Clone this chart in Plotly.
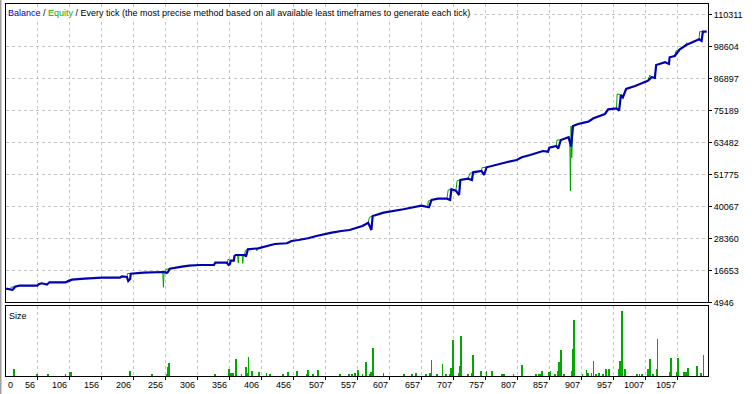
import plotly.graph_objects as go

# ---------------- data ----------------
balance_trades = [7, 17, 19, 21, 28, 56, 58, 63, 71, 75, 100, 102, 110, 130, 157, 185, 188, 196, 198, 201,
                  202, 222, 242, 254, 258, 260, 263, 268, 282, 293, 310, 332, 334, 352, 355, 357, 358, 363, 364, 366,
                  380, 382, 385, 401, 415, 427, 446, 453, 464, 479, 492, 504, 516, 531, 544, 555, 564, 573, 578, 580,
                  590, 597, 628, 646, 656, 668, 672, 682, 696, 701, 703, 710, 715, 717, 729, 735, 737, 750, 754, 758,
                  771, 789, 805, 813, 826, 836, 846, 854, 856, 867, 870, 874, 886, 890, 893, 901, 917, 925, 935, 943,
                  948, 961, 965, 968, 971, 976, 990, 1000, 1010, 1016, 1021, 1023, 1037, 1043, 1044, 1052, 1060, 1070, 1081, 1090,
                  1094, 1096, 1102]
balance_values = [10000, 9550, 10000, 10727, 11092, 11092, 11605, 11970, 11500, 12336, 12336, 12556, 13288, 13653, 14019, 14019, 14458, 14270, 12812, 13545,
                  15483, 15849, 16105, 16105, 15739, 16105, 17312, 17568, 18044, 18410, 18666, 18666, 19507, 19507, 18666, 19000, 20239, 20239, 21958, 22324,
                  22324, 21702, 24410, 24776, 25727, 26349, 26605, 27446, 27812, 28434, 29276, 30007, 30484, 31105, 31471, 32312, 32935, 34142, 31471, 36593,
                  37214, 37800, 39044, 39995, 40361, 39776, 42446, 42922, 42922, 42446, 46361, 45849, 44276, 49764, 50239, 49764, 52581, 53057, 51592, 54410,
                  55252, 56239, 57081, 58069, 58910, 59532, 60373, 60118, 61580, 62203, 61288, 64400, 65386, 62000, 69520, 70251, 71094, 72339, 73181, 73912,
                  75632, 75998, 75120, 80862, 80020, 83056, 84154, 85143, 86094, 87338, 87100, 91838, 92826, 92205, 94655, 95133, 97582, 99155, 100362, 101240,
                  100622, 104020, 104020]

# equity excursions away from the balance line (segments separated by None)
equity_trades = [13, 15, 21, None,
                 102, 104, 110, None,
                 196, 197, 202, None,
                 252, 253, 254, None,
                 256, 257, 263, None,
                 353, 354, 358, None,
                 369, 370, 371, None,
                 376, 377, 378, None,
                 380, 381, 385, None,
                 398, 399, 400, None,
                 573, 575, 580, None,
                 666, 667, 672, None,
                 696, 698, 703, None,
                 710, 712, 717, None,
                 729, 732, 737, None,
                 750, 751, 758, None,
                 867, 868, 874, None,
                 886, 888, 889, 890, 891, 893, None,
                 961, 962, 968, None,
                 1010, 1013, 1016, None,
                 1021, 1022, 1023, None,
                 1052, 1054, 1060, None,
                 1069, 1070, 1072, None,
                 1090, 1091, 1096]
equity_values = [10000, 10507, 10727, None,
                 12556, 13178, 13288, None,
                 14270, 15556, 15483, None,
                 16105, 10507, 16105, None,
                 16105, 17093, 17312, None,
                 19507, 20751, 20239, None,
                 22324, 19398, 22324, None,
                 22324, 19276, 22324, None,
                 22324, 23971, 24410, None,
                 24700, 23898, 24700, None,
                 34142, 36117, 36593, None,
                 40361, 42080, 42446, None,
                 42922, 46105, 46361, None,
                 45849, 49509, 49764, None,
                 50239, 52215, 52581, None,
                 53057, 54264, 54410, None,
                 62203, 64400, 64400, None,
                 65386, 65386, 45849, 69520, 57923, 69520, None,
                 75998, 81228, 80862, None,
                 86094, 88180, 87338, None,
                 87338, 91838, 91838, None,
                 95133, 96962, 97582, None,
                 99155, 99777, 99880, None,
                 101240, 104020, 104020]

size_trades = [20, 55, 73, 100, 107, 109, 200, 201, 235, 258, 260, 262, 334, 355, 356, 358, 362, 366, 375, 382,
               384, 386, 391, 402, 414, 420, 440, 448, 462, 478, 479, 487, 495, 529, 543, 548, 553, 557, 564, 570,
               575, 578, 580, 581, 597, 629, 642, 648, 663, 669, 672, 680, 689, 695, 700, 702, 703, 705, 714, 716,
               718, 729, 735, 737, 749, 758, 767, 782, 785, 800, 813, 835, 840, 842, 845, 856, 858, 865, 870, 871,
               874, 879, 891, 892, 893, 895, 908, 914, 917, 922, 925, 929, 934, 940, 944, 949, 965, 967, 969, 974,
               993, 997, 1001, 1010, 1012, 1013, 1018, 1024, 1025, 1045, 1046, 1055, 1057, 1066, 1069, 1073, 1086, 1087, 1093, 1097]
size_lots = [0.07, 0.02, 0.01, 0.01, 0.04, 0.04, 0.03, 0.05, 0.02, 0.02, 0.09, 0.13, 0.02, 0.02, 0.07, 0.03, 0.03, 0.17, 0.02, 0.09,
             0.03, 0.19, 0.05, 0.04, 0.03, 0.01, 0.02, 0.04, 0.05, 0.02, 0.06, 0.01, 0.06, 0.02, 0.02, 0.02, 0.03, 0.06, 0.02, 0.14,
             0.02, 0.04, 0.06, 0.28, 0.03, 0.01, 0.01, 0.03, 0.02, 0.03, 0.16, 0.01, 0.12, 0.01, 0.02, 0.08, 0.04, 0.36, 0.03, 0.10,
             0.40, 0.01, 0.03, 0.21, 0.05, 0.05, 0.05, 0.02, 0.02, 0.02, 0.11, 0.02, 0.02, 0.02, 0.05, 0.04, 0.05, 0.02, 0.05, 0.14,
             0.26, 0.02, 0.03, 0.05, 0.27, 0.56, 0.01, 0.06, 0.03, 0.03, 0.15, 0.02, 0.03, 0.02, 0.07, 0.07, 0.07, 0.15, 0.65, 0.07,
             0.02, 0.02, 0.02, 0.07, 0.04, 0.17, 0.02, 0.07, 0.37, 0.04, 0.18, 0.04, 0.18, 0.04, 0.04, 0.08, 0.04, 0.10, 0.03, 0.21]

y_tick_values = [4946, 16653, 28360, 40067, 51775, 63482, 75189, 86897, 98604, 110311]
x_tick_labels = ["0", "56", "106", "156", "206", "256", "306", "356", "406", "456", "507",
                 "557", "607", "657", "707", "757", "807", "857", "907", "957", "1007", "1057"]

# ---------------- styling ----------------
X_MIN, X_MAX = 7, 1104
Y_MIN, Y_MAX = 4946, 114154
SIZE_MAX = 0.70
BLUE = "#0000B4"
GREEN = "#00A000"
GRID = "#c4c4c4"
FONT = "Liberation Sans"

x_tick_values = [int(s) for s in x_tick_labels]
grid_vals = [v for v in x_tick_values if v > X_MIN]

fig = go.Figure()
fig.add_trace(go.Scatter(x=equity_trades, y=equity_values, mode="lines", connectgaps=False,
                         line=dict(color=GREEN, width=1), hoverinfo="skip", xaxis="x", yaxis="y"))
fig.add_trace(go.Scatter(x=balance_trades, y=balance_values, mode="lines",
                         line=dict(color=BLUE, width=2.2), xaxis="x", yaxis="y"))
fig.add_trace(go.Bar(x=size_trades, y=size_lots, width=1.3, marker=dict(color="#00A800", line=dict(width=0)),
                     xaxis="x2", yaxis="y2"))

common_x = dict(range=[X_MIN, X_MAX], tickvals=grid_vals, showticklabels=False, showgrid=True,
                gridcolor=GRID, griddash="3px,3px", gridwidth=1, showline=True, mirror=True,
                linecolor="black", linewidth=1, zeroline=False, fixedrange=True)

annotations = []
for lab, v in zip(x_tick_labels, x_tick_values):
    left = v <= X_MIN
    annotations.append(dict(x=X_MIN if left else v, y=0, xref="x2", yref="paper", text=lab, showarrow=False,
                            xanchor="left" if left else "right", yanchor="top", yshift=-2,
                            font=dict(family=FONT, size=9, color="black")))

annotations.append(dict(
    x=0, y=1, xref="paper", yref="paper", xanchor="left", yanchor="top", xshift=1, yshift=-3,
    showarrow=False, bgcolor="white", borderpad=0,
    text=("<span style='color:%s'>Balance</span> / <span style='color:#00B000'>Equity</span> / "
          "Every tick (the most precise method based on all available least timeframes to generate each tick)") % BLUE,
    font=dict(family=FONT, size=9, color="black")))
annotations.append(dict(x=0, y=0.188, xref="paper", yref="paper", xanchor="left", yanchor="top",
                        xshift=1, yshift=-3, showarrow=False, text="Size",
                        font=dict(family=FONT, size=9, color="black")))

fig.update_layout(
    width=754, height=394, margin=dict(l=6, r=46, t=4, b=18),
    paper_bgcolor="white", plot_bgcolor="white", showlegend=False,
    xaxis=dict(domain=[0, 1], anchor="y", ticks="", **common_x),
    yaxis=dict(domain=[0.1976, 1], range=[Y_MIN, Y_MAX], side="right", tickvals=y_tick_values,
               tickformat="d", ticks="outside", ticklen=3, tickcolor="black", showgrid=True, gridcolor=GRID,
               griddash="3px,3px", gridwidth=1, showline=True, mirror=True, linecolor="black",
               linewidth=1, zeroline=False, fixedrange=True,
               tickfont=dict(family=FONT, size=9, color="black")),
    xaxis2=dict(domain=[0, 1], anchor="y2", ticks="outside", ticklen=3, tickcolor="black", **common_x),
    yaxis2=dict(domain=[0, 0.188], range=[0, SIZE_MAX], showticklabels=False, showgrid=False,
                ticks="", showline=True, mirror=True, linecolor="black", linewidth=1,
                zeroline=False, fixedrange=True),
    annotations=annotations,
    shapes=[dict(type="line", xref="paper", yref="paper", x0=-5.5 / 702, x1=-5.5 / 702,
                 y0=-18 / 372, y1=1 + 4 / 372, line=dict(color="#a0a0a0", width=2))],
    bargap=0,
)

fig.write_html("out.html", config={"displayModeBar": False},
               post_script="document.body.style.margin='0';document.body.style.padding='0';")
